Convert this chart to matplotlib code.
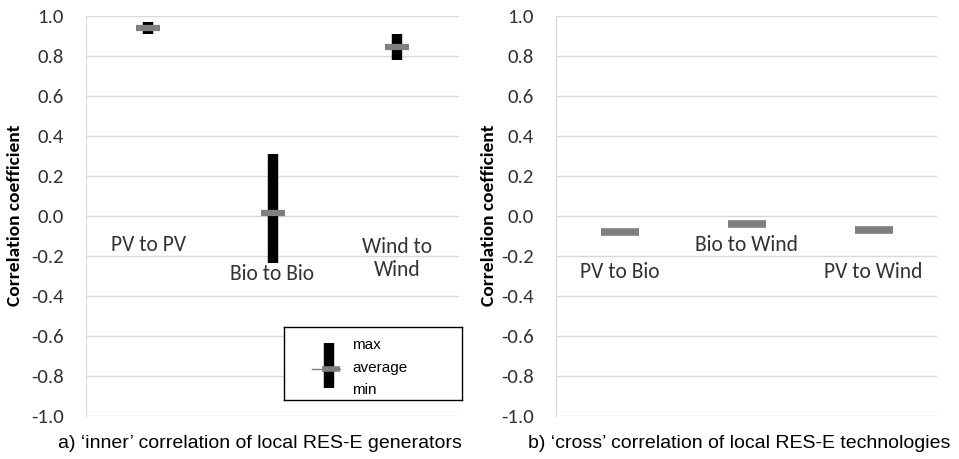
import matplotlib
matplotlib.use("Agg")
import matplotlib.pyplot as plt

# inner correlation: same technology
inner_names = ["PV to PV", "Bio to Bio", "Wind to\nWind"]
inner_max = [0.97, 0.31, 0.91]
inner_avg = [0.94, 0.012, 0.845]
inner_min = [0.91, -0.235, 0.78]
inner_label_y = [-0.145, -0.29, -0.215]

# cross correlation: different technologies
cross_names = ["PV to Bio", "Bio to Wind", "PV to Wind"]
cross_avg = [-0.08, -0.04, -0.07]
cross_label_y = [-0.28, -0.145, -0.28]

yticks = [-1.0, -0.8, -0.6, -0.4, -0.2, 0.0, 0.2, 0.4, 0.6, 0.8, 1.0]

body_font = ["Carlito", "DejaVu Sans"]
cap_font = ["Liberation Sans", "DejaVu Sans"]

GRID = "#d9d9d9"
AVG = "#7f7f7f"
TXT = "#333333"

W, H = 959, 459
fig = plt.figure(figsize=(W / 100, H / 100), dpi=100)


def setup(ax, label_x):
    ax.set_xlim(-0.5, 2.5)
    ax.set_ylim(-1.0, 1.0)
    ax.set_yticks(yticks)
    ax.set_yticklabels([f"{t:.1f}" for t in yticks], fontfamily=body_font, fontsize=15, color=TXT)
    ax.set_xticks([])
    ax.tick_params(axis="y", length=0, pad=16)
    for s in ["top", "right", "bottom"]:
        ax.spines[s].set_visible(False)
    ax.spines["left"].set_color(GRID)
    ax.grid(axis="y", color=GRID, linewidth=1)
    ax.set_axisbelow(True)
    ax.set_ylabel("Correlation coefficient", fontfamily=body_font, fontsize=14,
                  fontweight="bold", color="black")
    ax.yaxis.set_label_coords(label_x, 0.5)


ax1 = fig.add_axes([86 / W, 1 - 415.7 / H, 373 / W, 400 / H])
setup(ax1, -0.168)
x = range(len(inner_names))
ax1.vlines(x, inner_min, inner_max, color="black", linewidth=7.5, zorder=3)
ax1.plot(x, inner_avg, linestyle="none", marker="_", markersize=17, markeredgewidth=4.5,
         color=AVG, zorder=4)
for i, name in enumerate(inner_names):
    ax1.text(i, inner_label_y[i], name, ha="center", va="center", fontfamily=body_font,
             fontsize=15.5, color=TXT, linespacing=1.2)

ax2 = fig.add_axes([556 / W, 1 - 415.7 / H, 381 / W, 400 / H])
setup(ax2, -0.155)
x = range(len(cross_names))
ax2.plot(x, cross_avg, linestyle="none", marker="_", markersize=28, markeredgewidth=5.5,
         color=AVG, zorder=4)
for i, name in enumerate(cross_names):
    ax2.text(i, cross_label_y[i], name, ha="center", va="center", fontfamily=body_font,
             fontsize=15.5, color=TXT)

# hand-made legend box
lg = fig.add_axes([284 / W, 1 - 400 / H, 178 / W, 73 / H])
lg.set_xlim(0, 178)
lg.set_ylim(73, 0)
lg.set_xticks([])
lg.set_yticks([])
for s in lg.spines.values():
    s.set_color("black")
    s.set_linewidth(1)
lg.plot([28, 56], [42, 42], color=AVG, linewidth=1)
lg.plot([45, 45], [16, 61], color="black", linewidth=7.5, solid_capstyle="butt")
lg.plot([38, 56], [42, 42], color=AVG, linewidth=4, solid_capstyle="butt")
for yy, t in zip([18, 41, 63], ["max", "average", "min"]):
    lg.text(68, yy, t, va="center", ha="left", fontfamily="Liberation Sans", fontsize=11)

fig.text(58 / W, 1 - 444 / H, "a) \u2018inner\u2019 correlation of local RES-E generators",
         fontfamily=cap_font, fontsize=14, va="center", ha="left")
fig.text(528 / W, 1 - 444 / H, "b) \u2018cross\u2019 correlation of local RES-E technologies",
         fontfamily=cap_font, fontsize=14, va="center", ha="left")

fig.savefig("out.png", dpi=100)
